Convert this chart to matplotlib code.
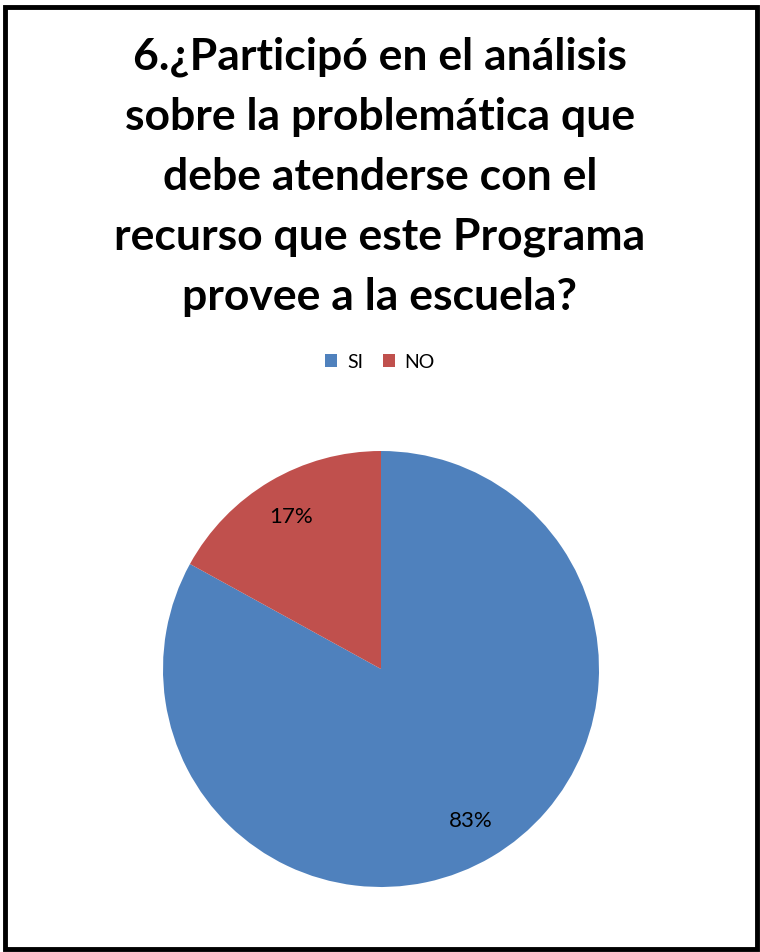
import matplotlib
matplotlib.use("Agg")
import matplotlib.pyplot as plt
from matplotlib.patches import Rectangle

# data
categories = ["SI", "NO"]
values = [83, 17]
colors = ["#4F81BD", "#C0504D"]
title = ("6.¿Participó en el análisis\nsobre la problemática que\n"
         "debe atenderse con el\nrecurso que este Programa\nprovee a la escuela?")

plt.rcParams['font.family'] = ['Lato', 'DejaVu Sans']

fig = plt.figure(figsize=(7.6, 9.52), dpi=100)

# outer frame
fig.patches.append(Rectangle((0.006, 0.003), 0.99, 0.99, transform=fig.transFigure,
                             fill=False, edgecolor="black", linewidth=3.5))

fig.text(0.5, 1 - 177/952, title, ha="center", va="center", fontsize=32,
         fontweight="bold", linespacing=1.6)

ax = fig.add_axes([163/760, (952-669-218)/952, 436/760, 436/952])
wedges, texts = ax.pie(values, colors=colors, startangle=90, counterclock=False,
                       labels=[f"{v}%" for v in values], labeldistance=0.81,
                       textprops=dict(fontsize=16, ha="center", va="center"))
ax.set_xlim(-1, 1)
ax.set_ylim(-1, 1)
ax.set_aspect("equal")

fig.legend(wedges, categories, loc="center", bbox_to_anchor=(0.5, 1 - 362/952),
           ncol=2, frameon=False, fontsize=14, handlelength=0.62, handleheight=0.62,
           handletextpad=0.5, columnspacing=1.0)

fig.savefig("out.png", dpi=100)
